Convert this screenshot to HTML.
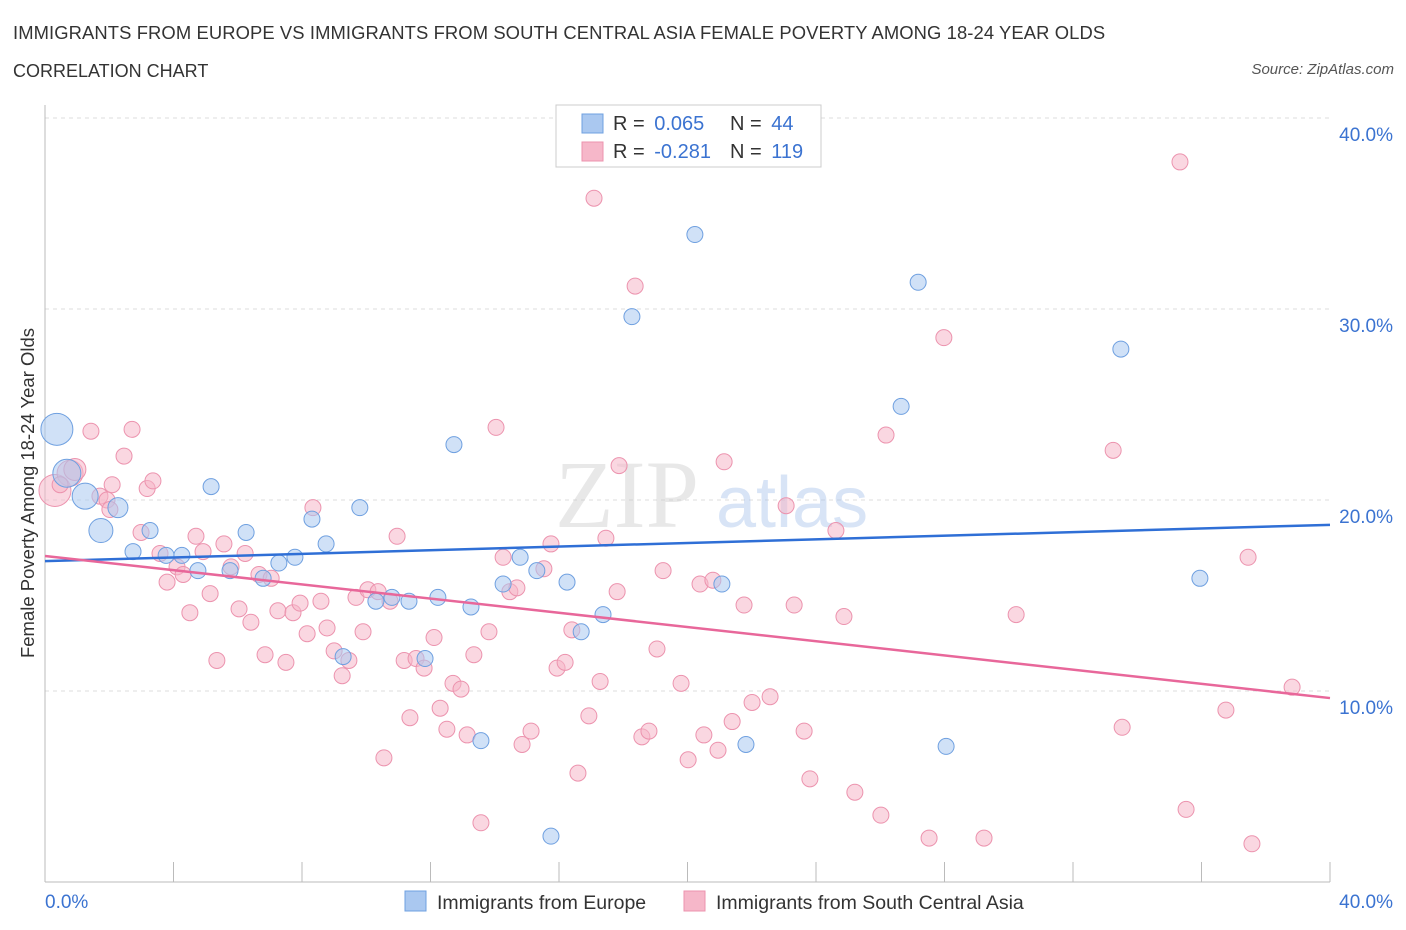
<!DOCTYPE html>
<html><head><meta charset="utf-8">
<style>
body{margin:0;background:#fff;font-family:"Liberation Sans",sans-serif;}
#wrap{position:relative;width:1406px;height:930px;overflow:hidden;}
.title{position:absolute;left:13px;top:22px;font-size:18.4px;color:#333;letter-spacing:0.1px}
.sub{position:absolute;left:13px;top:61px;font-size:18px;color:#333}
.src{position:absolute;right:12px;top:61px;font-size:15px;color:#555;font-style:italic}
</style></head><body>
<div id="wrap">
<div class="title">IMMIGRANTS FROM EUROPE VS IMMIGRANTS FROM SOUTH CENTRAL ASIA FEMALE POVERTY AMONG 18-24 YEAR OLDS</div>
<div class="sub">CORRELATION CHART</div>
<div class="src">Source: ZipAtlas.com</div>
<svg id="svg" width="1406" height="930" style="position:absolute;left:0;top:0"></svg>
</div>
<script>
const blueX=[0.37,0.68,1.25,2.27,1.74,3.27,2.74,3.77,4.26,4.76,5.17,5.76,6.26,6.79,7.28,7.78,8.31,8.75,9.28,9.80,10.3,10.8,11.33,11.83,12.23,12.73,13.26,13.57,14.26,14.79,15.31,15.75,16.25,16.69,17.37,18.27,20.23,21.07,21.82,26.65,27.18,28.05,33.49,35.95];
const blueY=[23.7,21.4,20.2,19.6,18.4,18.4,17.3,17.1,17.1,16.3,20.7,16.3,18.3,15.9,16.7,17.0,19.0,17.7,11.8,19.6,14.7,14.9,14.7,11.7,14.9,22.9,14.4,7.4,15.6,17.0,16.3,2.4,15.7,13.1,14.0,29.6,33.9,15.6,7.2,24.9,31.4,7.1,27.9,15.9];
const pinkX=[0.31,0.78,0.93,1.43,2.09,2.46,2.71,2.99,3.18,3.36,3.58,3.80,4.11,4.30,4.51,4.70,4.92,5.14,5.35,5.57,5.79,6.04,6.23,6.41,6.66,6.85,7.04,7.25,7.50,7.72,7.94,8.16,8.34,8.59,8.78,9.00,9.25,9.46,9.68,9.90,10.05,10.37,10.55,10.74,10.96,11.18,11.36,11.55,11.80,12.11,12.30,12.51,12.70,12.95,13.14,13.35,13.57,13.82,14.04,14.26,14.47,14.69,14.85,15.13,15.53,15.75,15.94,16.19,16.40,16.59,16.93,17.09,17.28,17.46,17.81,17.87,18.37,18.58,18.80,19.05,19.24,19.80,20.02,20.39,20.51,20.79,20.95,21.14,21.39,21.76,22.01,22.57,23.07,23.32,23.63,23.81,24.62,24.87,25.21,26.02,26.18,27.52,27.98,29.23,30.23,33.25,33.53,35.33,35.52,37.45,36.76,37.57,38.82,0.47,1.71,1.93,2.02];
const pinkY=[20.5,21.4,21.6,23.6,20.8,22.3,23.7,18.3,20.6,21.0,17.2,15.7,16.5,16.1,14.1,18.1,17.3,15.1,11.6,17.7,16.5,14.3,17.2,13.6,16.1,11.9,15.9,14.2,11.5,14.1,14.6,13.0,19.6,14.7,13.3,12.1,10.8,11.6,14.9,13.1,15.3,15.2,6.5,14.7,18.1,11.6,8.6,11.7,11.2,12.8,9.1,8.0,10.4,10.1,7.7,11.9,3.1,13.1,23.8,17.0,15.2,15.4,7.2,7.9,16.4,17.7,11.2,11.5,13.2,5.7,8.7,35.8,10.5,18.0,15.2,21.8,31.2,7.6,7.9,12.2,16.3,10.4,6.4,15.6,7.7,15.8,6.9,22.0,8.4,14.5,9.4,9.7,19.7,14.5,7.9,5.4,18.4,13.9,4.7,3.5,23.4,2.3,28.5,2.3,14.0,22.6,8.1,37.7,3.8,17.0,9.0,2.0,10.2,20.8,20.2,20.0,19.5];
const blueTrend=[16.8,18.7];
const pinkTrend=[17.07,9.63];
const yTicks=[10,20,30,40];
const xTickLabels=["0.0%","40.0%"];
const blueBig={0:16,1:14,2:13,4:12,3:10};
const pinkBig={0:16,1:13,2:11};

const svg=document.getElementById('svg');
const NS='http://www.w3.org/2000/svg';
const X=v=>45+v*(1330-45)/40;
const Y=v=>882-v*19.1;
function mk(t,a){const e=document.createElementNS(NS,t);for(const k in a)e.setAttribute(k,a[k]);svg.appendChild(e);return e;}
yTicks.forEach(t=>{
 const g=mk('line',{x1:45,x2:1330,y1:Y(t),y2:Y(t),stroke:'#ddd','stroke-dasharray':'4,4'});
 
 
 const l=mk('text',{x:1393,y:Y(t)+23,'text-anchor':'end','font-size':19,fill:'#3b73d1','font-family':'Liberation Sans'});
 l.textContent=t.toFixed(1)+'%';
 
 
});
const ax=mk('line',{x1:45,x2:45,y1:105,y2:882,stroke:'#bbb'});


const bx=mk('line',{x1:45,x2:1330,y1:882,y2:882,stroke:'#bbb'});


for(let i=0;i<=10;i++){
 const t=mk('line',{x1:X(i*4),x2:X(i*4),y1:862,y2:882,stroke:'#bbb'});
 
 
}
[[0,45,'start'],[1,1393,'end']].forEach(([i,x,a])=>{
 const t=mk('text',{x:x,y:908,'text-anchor':a,'font-size':19,fill:'#3b73d1','font-family':'Liberation Sans'});
 t.textContent=xTickLabels[i];
 
 
});
const yt=mk('text',{x:0,y:0,transform:'translate(34,493) rotate(-90)','text-anchor':'middle','font-size':18.5,fill:'#333','font-family':'Liberation Sans'});
yt.textContent='Female Poverty Among 18-24 Year Olds';


const wm=mk('text',{x:555,y:527,'font-size':96,fill:'#ccc','fill-opacity':0.45,'font-family':'Liberation Serif'});
wm.textContent='ZIP';


const wm2=mk('text',{x:716,y:527,'font-size':72,fill:'#a9c4ea','fill-opacity':0.45,'font-family':'Liberation Sans'});
wm2.textContent='atlas';


pinkX.forEach((x,i)=>{
 const c=mk('circle',{cx:X(x),cy:Y(pinkY[i]),r:pinkBig[i]||8,fill:'#f6b7c9','fill-opacity':0.55,stroke:'#ec93ae','stroke-width':1});
 
 
});
blueX.forEach((x,i)=>{
 const c=mk('circle',{cx:X(x),cy:Y(blueY[i]),r:blueBig[i]||8,fill:'#aac8f0','fill-opacity':0.55,stroke:'#6fa0e0','stroke-width':1});
 
 
});
const bl=mk('line',{x1:X(0),y1:Y(blueTrend[0]),x2:X(40),y2:Y(blueTrend[1]),stroke:'#2f6fd6','stroke-width':2.5});


const pl=mk('line',{x1:X(0),y1:Y(pinkTrend[0]),x2:X(40),y2:Y(pinkTrend[1]),stroke:'#e8679a','stroke-width':2.5});


const lb=mk('rect',{x:556,y:105,width:265,height:62,fill:'#fff',stroke:'#ccc'});


[[0,'#aac8f0','#6fa0e0','0.065','44'],[1,'#f6b7c9','#ec93ae','-0.281','119']].forEach(([i,f,s,r,n])=>{
 const y=123+i*28;
 const sw=mk('rect',{x:582,y:y-9,width:21,height:19,fill:f,stroke:s});
 
 
 const t=mk('text',{x:613,y:y+7,'font-size':20,fill:'#333','font-family':'Liberation Sans'});
 t.innerHTML='R = <tspan fill="#3b73d1" dx="4">'+r+'</tspan>';
 
 
 const t2=mk('text',{x:730,y:y+7,'font-size':20,fill:'#333','font-family':'Liberation Sans'});
 t2.innerHTML='N = <tspan fill="#3b73d1" dx="4">'+n+'</tspan>';
 
 
});
[[405,'#aac8f0','#6fa0e0','Immigrants from Europe'],[684,'#f6b7c9','#ec93ae','Immigrants from South Central Asia']].forEach(([x,f,s,l])=>{
 const r=mk('rect',{x:x,y:891,width:21,height:20,fill:f,stroke:s});
 
 
 const t=mk('text',{x:x+32,y:909,'font-size':19.5,fill:'#333','font-family':'Liberation Sans'});
 t.textContent=l;
 
 
});
</script>
</body></html>
